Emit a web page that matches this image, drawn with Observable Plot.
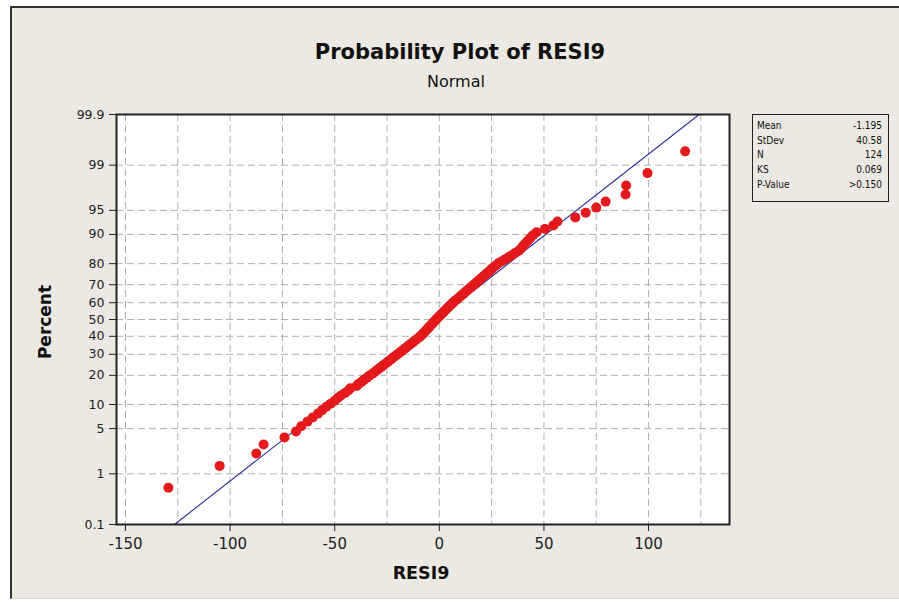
<!DOCTYPE html>
<html>
<head>
<meta charset="utf-8">
<script src="https://cdn.jsdelivr.net/npm/d3@7"></script>
<script src="https://cdn.jsdelivr.net/npm/@observablehq/plot@0.6"></script>
<style>
  html, body { margin: 0; padding: 0; background: #ffffff; }
  #wrap { position: relative; width: 899px; height: 602px; overflow: hidden; font-family: "DejaVu Sans", sans-serif; color: #111; }
  #panel { position: absolute; left: 10px; top: 6px; width: 900px; height: 590px; background: #ECE9E2; border-left: 2px solid #333; border-top: 2px solid #333; border-bottom: 1px solid #d8d6d0; }
  #chart { position: absolute; left: 0; top: 0; }
  .t { position: absolute; white-space: nowrap; line-height: 1; }
  #title { left: 0; width: 920px; text-align: center; top: 42px; font-size: 21px; font-weight: bold; }
  #subtitle { left: 0; width: 912px; text-align: center; top: 74px; font-size: 16px; }
  #ylab { left: 45px; top: 322px; font-size: 17px; font-weight: bold; transform: translate(-50%, -50%) rotate(-90deg); }
  #xlab { left: 421px; top: 565px; font-size: 17.5px; font-weight: bold; transform: translateX(-50%); }
  #legend { position: absolute; left: 752px; top: 114px; width: 135px; height: 82px; border: 1.5px solid #222; padding-top: 4px; box-sizing: content-box; font-family: "DejaVu Sans Condensed", "DejaVu Sans", sans-serif; font-size: 10px; }
  #legend .row { display: flex; justify-content: space-between; height: 14.7px; line-height: 14.7px; padding: 0 6px 0 4px; }
</style>
</head>
<body>
<div id="wrap">
  <div id="panel"></div>
  <div id="chart"></div>
  <div class="t" id="title"></div>
  <div class="t" id="subtitle"></div>
  <div class="t" id="ylab"></div>
  <div class="t" id="xlab"></div>
  <div id="legend"></div>
</div>
<script>
// ---- data ----
const titleText = "Probability Plot of RESI9";
const subtitleText = "Normal";
const xLabel = "RESI9";
const yLabel = "Percent";

// sorted residuals, one per plotted point (N = 124)
const residuals = [
  -129.5, -105, -87.5, -84, -74, -68.5, -66, -63, -60.5, -58,
  -56, -54, -52, -50, -48.5, -47, -45, -43.5, -42.5, -39.5,
  -38.5, -37, -36, -34.5, -33.5, -32, -30.9, -29.8, -28.7, -27.6,
  -26.6, -25.5, -24.5, -23.5, -22.5, -21.6, -20.6, -19.6, -18.7, -17.8,
  -16.9, -16, -15.1, -14.2, -13.3, -12.5, -11.6, -10.8, -9.9, -9.1,
  -8.4, -7.8, -7.2, -6.6, -6, -5.4, -4.8, -4.2, -3.6, -3,
  -2.4, -1.8, -1.2, -0.6, 0.1, 0.7, 1.4, 2, 2.6, 3.3,
  3.9, 4.6, 5.2, 5.9, 6.6, 7.3, 8.1, 8.9, 9.7, 10.4,
  11.3, 12, 12.8, 13.7, 14.5, 15.4, 16.2, 17, 17.9, 18.7,
  19.6, 20.5, 21.4, 22.3, 23.2, 24.2, 25.1, 26.1, 27.2, 28.2,
  29.8, 31.4, 33, 34.6, 36.2, 38, 39, 40, 41.1, 42.2,
  43.4, 44.7, 46.5, 50.5, 54.5, 56.5, 65, 70, 75, 79.5,
  89, 89.3, 99.5, 117.5
];

const xTicks = [-150, -100, -50, 0, 50, 100];
const xGridLines = [-150, -125, -100, -75, -50, -25, 0, 25, 50, 75, 100, 125];
const yTickPercents = [0.1, 1, 5, 10, 20, 30, 40, 50, 60, 70, 80, 90, 95, 99, 99.9];
const yTickLabels = ["0.1", "1", "5", "10", "20", "30", "40", "50", "60", "70", "80", "90", "95", "99", "99.9"];

const statNames = ["Mean", "StDev", "N", "KS", "P-Value"];
const statValues = ["-1.195", "40.58", "124", "0.069", ">0.150"];
const fitMean = -1.195;
const fitStDev = 40.58;

// ---- inverse standard normal CDF (probability scale) ----
function probit(p) {
  const a = [-3.969683028665376e+01, 2.209460984245205e+02, -2.759285104469687e+02, 1.383577518672690e+02, -3.066479806614716e+01, 2.506628277459239e+00];
  const b = [-5.447609879822406e+01, 1.615858368580409e+02, -1.556989798598866e+02, 6.680131188771972e+01, -1.328068155288572e+01];
  const c = [-7.784894002430293e-03, -3.223964580411365e-01, -2.400758277161838e+00, -2.549732539343734e+00, 4.374664141464968e+00, 2.938163982698783e+00];
  const e = [7.784695709041462e-03, 3.224671290700398e-01, 2.445134137142996e+00, 3.754408661907416e+00];
  const pl = 0.02425, ph = 1 - pl;
  let q, r;
  if (p < pl) {
    q = Math.sqrt(-2 * Math.log(p));
    return (((((c[0]*q+c[1])*q+c[2])*q+c[3])*q+c[4])*q+c[5]) / ((((e[0]*q+e[1])*q+e[2])*q+e[3])*q+1);
  }
  if (p <= ph) {
    q = p - 0.5; r = q * q;
    return (((((a[0]*r+a[1])*r+a[2])*r+a[3])*r+a[4])*r+a[5])*q / (((((b[0]*r+b[1])*r+b[2])*r+b[3])*r+b[4])*r+1);
  }
  q = Math.sqrt(-2 * Math.log(1 - p));
  return -(((((c[0]*q+c[1])*q+c[2])*q+c[3])*q+c[4])*q+c[5]) / ((((e[0]*q+e[1])*q+e[2])*q+e[3])*q+1);
}

// plotting positions (median ranks) for the sorted residuals
const sorted = d3.sort(residuals);
const n = sorted.length;
const points = sorted.map((v, i) => ({resid: v, z: probit((i + 1 - 0.3) / (n + 0.4))}));

const yTickZ = yTickPercents.map(p => probit(p / 100));
const zLo = yTickZ[0], zHi = yTickZ[yTickZ.length - 1];
const fitLine = [zLo, zHi].map(z => ({z, x: fitMean + fitStDev * z}));
const yGridZ = yTickZ.slice(1, -1);

const chart = Plot.plot({
  width: 899,
  height: 602,
  marginLeft: 116,
  marginRight: 170,
  marginTop: 114,
  marginBottom: 78,
  style: {background: "transparent", fontFamily: "DejaVu Sans, sans-serif", fontSize: "12px", color: "#222", overflow: "visible"},
  x: {domain: [-154.3, 138.7], ticks: xTicks, tickFormat: d => String(d), tickSize: 7, tickPadding: 7, label: null, line: false},
  y: {domain: [zLo, zHi], ticks: yTickZ, tickFormat: z => yTickLabels[yTickZ.indexOf(z)], tickSize: 7, tickPadding: 5, label: null, line: false},
  marks: [
    Plot.frame({fill: "white", stroke: null}),
    Plot.ruleX(xGridLines, {stroke: "#b0b0b0", strokeDasharray: "7,4", strokeWidth: 1}),
    Plot.ruleY(yGridZ, {stroke: "#b0b0b0", strokeDasharray: "7,4", strokeWidth: 1}),
    Plot.line(fitLine, {x: "x", y: "z", stroke: "#2b2b9c", strokeWidth: 1.1}),
    Plot.dot(points, {x: "resid", y: "z", r: 5, fill: "#e3191c", stroke: null}),
    Plot.frame({stroke: "#222", strokeWidth: 2})
  ]
});
document.getElementById("chart").appendChild(chart);

// axis label sizes
d3.select(chart).selectAll('g[aria-label^="x-axis"]').attr("font-size", 15);
d3.select(chart).selectAll('g[aria-label^="y-axis"]').attr("font-size", 12.5);

document.getElementById("title").textContent = titleText;
document.getElementById("subtitle").textContent = subtitleText;
document.getElementById("xlab").textContent = xLabel;
document.getElementById("ylab").textContent = yLabel;
const legend = document.getElementById("legend");
statNames.forEach((name, i) => {
  const row = document.createElement("div");
  row.className = "row";
  const a = document.createElement("span"); a.textContent = name;
  const b = document.createElement("span"); b.textContent = statValues[i];
  row.appendChild(a); row.appendChild(b);
  legend.appendChild(row);
});
</script>
</body>
</html>
